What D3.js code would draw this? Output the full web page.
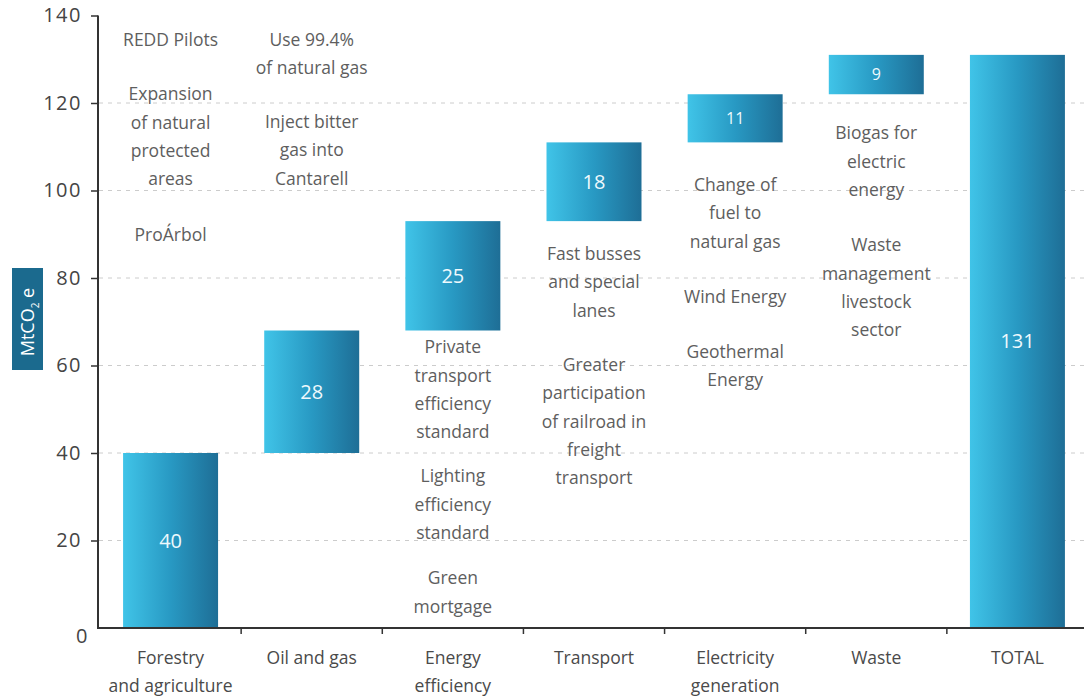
<!DOCTYPE html>
<html><head><meta charset="utf-8">
<script src="https://cdn.jsdelivr.net/npm/d3@7"></script>
<style>
body{margin:0;background:#fff;}
text{font-family:"Open Sans",sans-serif;}
</style></head>
<body><svg id="c" width="1084" height="697"></svg>
<script>
const categories = ["Forestry|and agriculture","Oil and gas","Energy|efficiency","Transport","Electricity|generation","Waste","TOTAL"];
const reductions = [40, 28, 25, 18, 11, 9];
const totalValue = 131;
const yTicks = [0, 20, 40, 60, 80, 100, 120, 140];
const gridValues = [20, 40, 60, 80, 100, 120];
// annotation groups: category index, anchor value (MtCO2e) of first line, lines
const notes = [
  [0, 134.4, ["REDD Pilots"]],
  [0, 122.0, ["Expansion","of natural","protected","areas"]],
  [0, 89.8, ["ProÁrbol"]],
  [1, 134.4, ["Use 99.4%","of natural gas"]],
  [1, 115.7, ["Inject bitter","gas into","Cantarell"]],
  [2, 64.2, ["Private","transport","efficiency","standard"]],
  [2, 34.7, ["Lighting","efficiency","standard"]],
  [2, 11.4, ["Green","mortgage"]],
  [3, 85.5, ["Fast busses","and special","lanes"]],
  [3, 60.1, ["Greater","participation","of railroad in","freight","transport"]],
  [4, 101.3, ["Change of","fuel to","natural gas"]],
  [4, 75.7, ["Wind Energy"]],
  [4, 63.1, ["Geothermal","Energy"]],
  [5, 113.1, ["Biogas for","electric","energy"]],
  [5, 87.5, ["Waste","management","livestock","sector"]]
];

let cum = 0;
const rows = reductions.map((v,i)=>{const r={cat:categories[i],start:cum,end:cum+v,val:v}; cum+=v; return r;});
rows.push({cat:categories[6],start:0,end:totalValue,val:totalValue});

const svg = d3.select("#c");
const x = d3.scaleBand().domain(categories).range([100,1088]).paddingInner(0.327).paddingOuter(0.1635);
const y = d3.scaleLinear().domain([0,140]).range([628,15.5]);

const defs = svg.append("defs");
const g = defs.append("linearGradient").attr("id","barGrad").attr("x1","0%").attr("x2","100%").attr("y1","0%").attr("y2","0%");
g.append("stop").attr("offset","0%").attr("stop-color","#40c4e8");
g.append("stop").attr("offset","50%").attr("stop-color","#2899c3");
g.append("stop").attr("offset","100%").attr("stop-color","#1e6e96");

svg.append("g").selectAll("line").data(gridValues).join("line")
  .attr("x1",99).attr("x2",1084).attr("y1",d=>y(d)).attr("y2",d=>y(d))
  .attr("stroke","#cccccc").attr("stroke-width",1).attr("stroke-dasharray","4,5");

svg.append("g").selectAll("rect").data(rows).join("rect")
  .attr("x",d=>x(d.cat)).attr("width",x.bandwidth())
  .attr("y",d=>y(d.end)).attr("height",d=>y(d.start)-y(d.end))
  .attr("fill","url(#barGrad)");

svg.append("g").selectAll("text").data(rows).join("text")
  .attr("x",d=>x(d.cat)+x.bandwidth()/2).attr("y",d=>(y(d.start)+y(d.end))/2)
  .attr("dy","0.35em").attr("text-anchor","middle")
  .attr("fill","#eef9fd").attr("font-size",d=>d.val<15?16:20)
  .text(d=>d.val);

const ann = svg.append("g").attr("fill","#5e5e5e").attr("font-size",17.5);
notes.forEach(([ci,v,lines])=>{
  const cx = x(categories[ci])+x.bandwidth()/2;
  lines.forEach((t,j)=>{
    ann.append("text").attr("x",cx).attr("y",y(v)+j*28.3).attr("dy","0.35em")
      .attr("text-anchor","middle").text(t);
  });
});

const yAxis = d3.axisLeft(y).tickValues(yTicks).tickSize(7).tickPadding(9).tickFormat(d3.format("d"));
const ya = svg.append("g").attr("transform","translate(98,0)").call(yAxis);
ya.select(".domain").attr("stroke","#333").attr("stroke-width",2).attr("d","M0,15.5V628");
ya.selectAll(".tick line").attr("stroke","#333").attr("stroke-width",1.5);
ya.selectAll(".tick text").attr("fill","#444").attr("font-size",20).attr("letter-spacing",1.5).attr("font-family","Open Sans");
ya.selectAll(".tick").filter(d=>d===0).select("line").remove();
ya.selectAll(".tick").filter(d=>d===0).select("text").attr("x",-9).attr("y",8);

const xa = svg.append("g").attr("transform","translate(0,628)");
xa.append("line").attr("x1",97).attr("x2",1084).attr("stroke","#333").attr("stroke-width",2);
const step = x.step();
xa.selectAll("line.tk").data(categories.slice(0,-1)).join("line").attr("class","tk")
  .attr("x1",d=>x(d)+x.bandwidth()/2+step/2).attr("x2",d=>x(d)+x.bandwidth()/2+step/2)
  .attr("y1",0).attr("y2",6).attr("stroke","#333").attr("stroke-width",1.5);
categories.forEach(c=>{
  const parts=c.split("|");
  parts.forEach((p,j)=>{
    xa.append("text").attr("x",x(c)+x.bandwidth()/2).attr("y",30+j*28).attr("dy","0.35em")
      .attr("text-anchor","middle").attr("fill","#4a4a4a").attr("font-size",17.5).text(p);
  });
});

svg.append("rect").attr("x",12).attr("y",268).attr("width",31).attr("height",102).attr("fill","#1b6a8e");
const yl = svg.append("text").attr("transform","translate(34,322) rotate(-90)")
  .attr("text-anchor","middle").attr("fill","#fff").attr("font-size",18);
yl.append("tspan").text("MtCO");
yl.append("tspan").attr("font-size",10).attr("dy",5).text("2");
yl.append("tspan").attr("dy",-5).text(" e");
</script></body></html>
